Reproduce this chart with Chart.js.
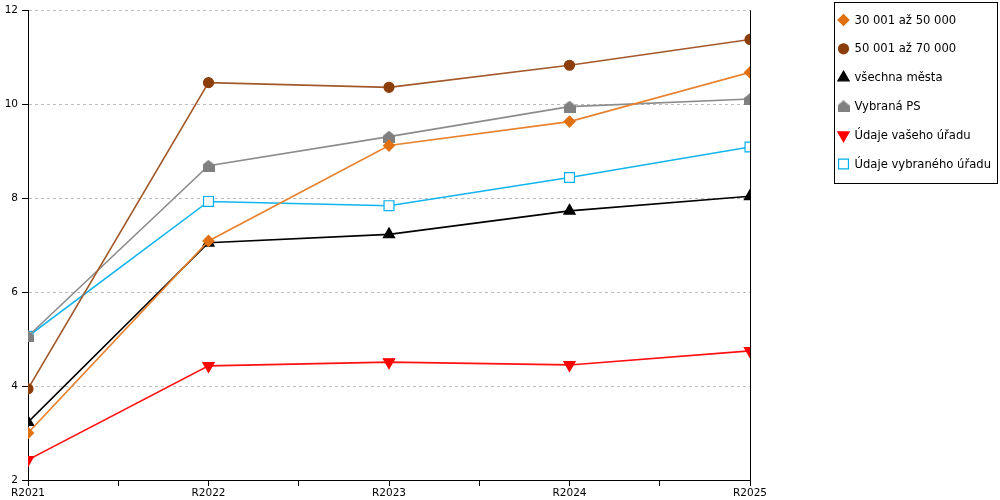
<!DOCTYPE html>
<html>
<head>
<meta charset="utf-8">
<script src="https://cdn.jsdelivr.net/npm/chart.js@4.4.1/dist/chart.umd.min.js"></script>
<style>
  html, body { margin: 0; padding: 0; background: #fff; }
  #wrap { width: 1000px; height: 500px; position: relative; }
</style>
</head>
<body>
<div id="wrap"><canvas id="chart" width="1000" height="500"></canvas></div>
<script>
// Data
const categories = ["R2021", "R2022", "R2023", "R2024", "R2025"];
const yTicks = [2, 4, 6, 8, 10, 12];

const seriesNames = [
  "30 001 až 50 000",
  "50 001 až 70 000",
  "všechna města",
  "Vybraná PS",
  "Údaje vašeho úřadu",
  "Údaje vybraného úřadu",
];

const values3050 = [3.0, 7.09, 9.12, 9.63, 10.68];
const values5070 = [3.94, 10.46, 10.36, 10.83, 11.38];
const valuesAll = [3.23, 7.05, 7.23, 7.73, 8.04];
const valuesPS = [5.06, 8.69, 9.31, 9.95, 10.11];
const valuesYours = [2.43, 4.43, 4.51, 4.45, 4.75];
const valuesSelected = [5.06, 7.93, 7.84, 8.44, 9.09];

// House-shaped marker for "Vybraná PS"
function makeHouse(color) {
  const c = document.createElement("canvas");
  c.width = 12;
  c.height = 12;
  const g = c.getContext("2d");
  g.fillStyle = color;
  g.beginPath();
  g.moveTo(6, 0);
  g.lineTo(12, 5);
  g.lineTo(12, 12);
  g.lineTo(0, 12);
  g.lineTo(0, 5);
  g.closePath();
  g.fill();
  return c;
}
const houseMarker = makeHouse("#808080");

function toPoints(arr) {
  return arr.map((v, i) => ({ x: i, y: v }));
}

function makeSet(label, data, line, marker, style, radius, rotation, fill) {
  return {
    label: label,
    data: toPoints(data),
    borderColor: line,
    borderWidth: 1.6,
    pointStyle: style,
    pointRadius: radius,
    pointHoverRadius: radius,
    pointRotation: rotation,
    pointBackgroundColor: fill,
    pointBorderColor: marker,
    pointBorderWidth: 1.2,
    tension: 0,
    fill: false,
  };
}

const datasets = [
  makeSet(seriesNames[0], values3050, "#E8822E", "#E07010", "rectRot", 5.5, 0, "#E07010"),
  makeSet(seriesNames[1], values5070, "#A3582A", "#8B3E0A", "circle", 5, 0, "#8B3E0A"),
  makeSet(seriesNames[2], valuesAll, "#000000", "#000000", "triangle", 6.5, 0, "#000000"),
  makeSet(seriesNames[3], valuesPS, "#8C8C8C", "#808080", houseMarker, 6, 0, "#808080"),
  makeSet(seriesNames[4], valuesYours, "#FF1010", "#FF0000", "triangle", 6.5, 180, "#FF0000"),
  makeSet(seriesNames[5], valuesSelected, "#10B4EE", "#00B0F0", "rect", 7, 0, "#FFFFFF"),
];

// Right frame line + boxed legend
const framePlugin = {
  id: "framePlugin",
  afterDatasetsDraw(chart) {
    const ctx = chart.ctx;
    const a = chart.chartArea;
    ctx.save();
    ctx.strokeStyle = "#000";
    ctx.lineWidth = 1;
    ctx.beginPath();
    ctx.moveTo(Math.round(a.right) + 0.5, a.top);
    ctx.lineTo(Math.round(a.right) + 0.5, a.bottom);
    ctx.stroke();
    ctx.restore();
  },
  afterDraw(chart) {
    const ctx = chart.ctx;
    ctx.save();
    ctx.strokeStyle = "#000";
    ctx.lineWidth = 1;
    ctx.strokeRect(834.5, 2.5, 163, 181);
    ctx.font = "11.6px 'DejaVu Sans'";
    ctx.fillStyle = "#000";
    ctx.textBaseline = "middle";
    chart.data.datasets.forEach((ds, i) => {
      const y = 20 + i * 28.8;
      ctx.fillStyle = ds.pointBackgroundColor;
      ctx.strokeStyle = ds.pointBorderColor;
      ctx.lineWidth = ds.pointBorderWidth;
      if (Chart.helpers && Chart.helpers.drawPoint) {
        Chart.helpers.drawPoint(ctx, {
          pointStyle: ds.pointStyle,
          rotation: ds.pointRotation,
          radius: ds.pointRadius,
          borderWidth: ds.pointBorderWidth,
        }, 843.5, y);
      }
      ctx.fillStyle = "#000";
      ctx.fillText(ds.label, 854.5, y + 0.5);
    });
    ctx.restore();
  },
};

const ctx = document.getElementById("chart");
new Chart(ctx, {
  type: "line",
  data: { datasets: datasets },
  options: {
    responsive: false,
    animation: false,
    layout: { padding: { top: 10, right: 250, left: 0, bottom: 0 } },
    plugins: {
      legend: { display: false },
      tooltip: { enabled: false },
    },
    scales: {
      x: {
        type: "linear",
        min: 0,
        max: categories.length - 1,
        afterFit(scale) { scale.height = 20; },
        afterBuildTicks(scale) {
          const t = [];
          for (let v = 0; v <= categories.length - 1; v += 0.5) t.push({ value: v });
          scale.ticks = t;
        },
        ticks: {
          autoSkip: false,
          maxRotation: 0,
          padding: 1,
          color: "#000",
          font: { family: "'DejaVu Sans'", size: 10.5 },
          callback: (v) => (Number.isInteger(v) ? categories[v] : ""),
        },
        grid: {
          drawOnChartArea: false,
          drawTicks: true,
          tickLength: 6,
          tickColor: "#000",
          tickWidth: 1,
        },
        border: { display: true, color: "#000", width: 1 },
      },
      y: {
        min: yTicks[0],
        max: yTicks[yTicks.length - 1],
        afterFit(scale) { scale.width = 28; },
        afterBuildTicks(scale) {
          scale.ticks = yTicks.map((v) => ({ value: v }));
        },
        ticks: {
          padding: 4,
          color: "#000",
          font: { family: "'DejaVu Sans'", size: 10.5 },
        },
        grid: {
          color: (c) => (c.tick && c.tick.value === yTicks[0] ? "rgba(0,0,0,0)" : "#BDBDBD"),
          tickColor: "#000",
          tickBorderDash: [],
          tickLength: 6,
          lineWidth: 1,
        },
        border: { display: true, color: "#000", width: 1, dash: [3, 3] },
      },
    },
  },
  plugins: [framePlugin],
});
</script>
</body>
</html>
